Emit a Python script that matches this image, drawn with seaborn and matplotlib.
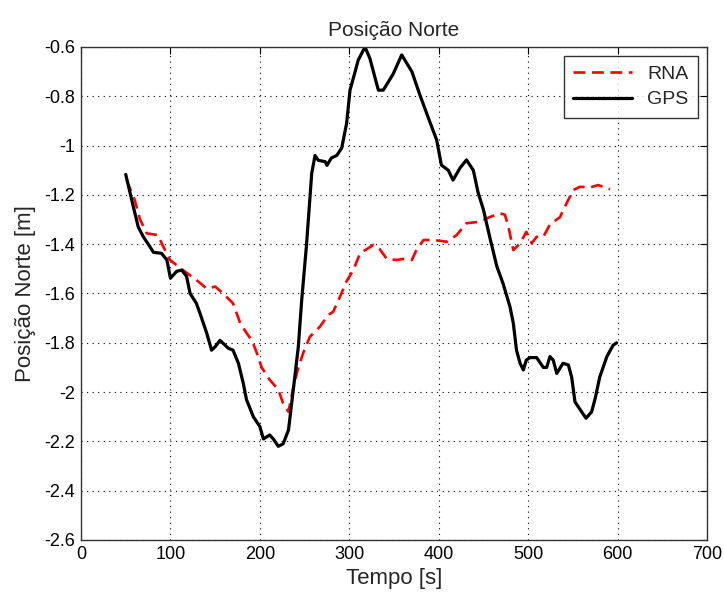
import pandas as pd
import matplotlib
matplotlib.use('Agg')
import matplotlib.pyplot as plt
import seaborn as sns
from matplotlib.ticker import FuncFormatter

# Values
gps_t = [50, 58.5, 64, 69.7, 77, 81, 90, 96, 100, 107, 112.6, 118, 122, 129, 133,
         140.5, 146, 150, 155.4, 164.7, 170, 176, 181.5, 185, 192.7, 200, 204, 211,
         215, 220.6, 226, 232, 237.4, 243, 246.8, 252, 258, 261.7, 265.4, 273, 275,
         280, 286, 291.5, 297, 300.8, 306, 310, 317.6, 323, 332.5, 338, 349, 358.6,
         370, 379, 390, 397.7, 403, 410.7, 416, 424, 431, 438.7, 444, 450, 457, 465,
         472, 479.7, 483.4, 487, 491, 494.6, 498, 502, 509.5, 517, 520.7, 524.4, 528,
         532, 539, 545, 548.7, 552.4, 558, 564.7, 571, 575, 580, 588, 595, 599]
gps_pos = [-1.117, -1.248, -1.33, -1.37, -1.41, -1.433, -1.437, -1.464, -1.538, -1.51,
           -1.505, -1.53, -1.6, -1.64, -1.68, -1.76, -1.83, -1.816, -1.79, -1.822,
           -1.83, -1.883, -1.965, -2.03, -2.1, -2.14, -2.19, -2.174, -2.19, -2.22,
           -2.21, -2.154, -1.99, -1.816, -1.626, -1.41, -1.112, -1.04, -1.06, -1.065,
           -1.08, -1.05, -1.04, -1.01, -0.91, -0.775, -0.707, -0.653, -0.6, -0.646,
           -0.775, -0.775, -0.71, -0.632, -0.7, -0.795, -0.903, -0.977, -1.079, -1.1,
           -1.14, -1.09, -1.058, -1.1, -1.19, -1.26, -1.37, -1.49, -1.56, -1.654,
           -1.72, -1.83, -1.883, -1.91, -1.87, -1.86, -1.86, -1.9, -1.9, -1.856,
           -1.87, -1.924, -1.883, -1.89, -1.94, -2.04, -2.07, -2.106, -2.08, -2.025,
           -1.94, -1.856, -1.81, -1.8]

rna_t = [51, 60, 66, 73.5, 86, 92, 99.5, 114, 129, 140.5, 150, 159, 170, 178, 185,
         191, 196.5, 202, 211, 220.6, 226, 232, 237.4, 243, 248.6, 256, 267, 276.5,
         282, 289.6, 297, 304.5, 312, 327, 334, 342, 353, 360, 370, 375, 383, 394,
         409, 420, 431, 446, 457, 468.5, 474, 478, 483.4, 491, 498, 504, 509.5, 517,
         524.4, 535.6, 543, 550.5, 558, 569, 578.4, 591.5]
rna_pos = [-1.14, -1.22, -1.3, -1.356, -1.363, -1.41, -1.464, -1.505, -1.545, -1.58,
           -1.572, -1.6, -1.64, -1.72, -1.76, -1.79, -1.84, -1.9, -1.95, -1.99,
           -2.046, -2.08, -1.98, -1.9, -1.84, -1.775, -1.735, -1.687, -1.674, -1.613,
           -1.55, -1.505, -1.437, -1.403, -1.42, -1.46, -1.464, -1.46, -1.464, -1.424,
           -1.383, -1.383, -1.39, -1.363, -1.315, -1.309, -1.29, -1.275, -1.28, -1.33,
           -1.424, -1.396, -1.35, -1.396, -1.37, -1.37, -1.32, -1.29, -1.234, -1.18,
           -1.167, -1.17, -1.16, -1.177]

x_ticks = [0, 100, 200, 300, 400, 500, 600, 700]
y_ticks = [-2.6, -2.4, -2.2, -2, -1.8, -1.6, -1.4, -1.2, -1, -0.8, -0.6]

rna = pd.DataFrame({'t': rna_t, 'pos': rna_pos})
gps = pd.DataFrame({'t': gps_t, 'pos': gps_pos})

sns.set_style('white')
plt.rcParams['font.family'] = ['Liberation Sans Narrow', 'Liberation Sans', 'DejaVu Sans']

fig = plt.figure(figsize=(7.24, 6.01), dpi=100)
ax = fig.add_axes([0.1119, 0.1015, 0.8646, 0.8203])

sns.lineplot(data=rna, x='t', y='pos', ax=ax, color='red', linewidth=1.9,
             label='RNA', sort=False)
ax.lines[-1].set_dashes((4.5, 2.5))
sns.lineplot(data=gps, x='t', y='pos', ax=ax, color='black', linewidth=2.3,
             label='GPS', sort=False)

ax.set_xlim(0, 700)
ax.set_ylim(-2.6, -0.6)
ax.set_xticks(x_ticks)
ax.set_yticks(y_ticks)
ax.yaxis.set_major_formatter(FuncFormatter(lambda v, p: f'{v:g}'))
ax.grid(True, color='black', linestyle=(0, (1, 4)), linewidth=0.8)
ax.tick_params(direction='in', top=True, right=True, length=5, width=0.8,
               labelsize=13, colors='black', pad=4)
for s in ax.spines.values():
    s.set_color('#333333')
    s.set_linewidth(1.0)

ax.set_title('Posição Norte', fontsize=15, pad=8)
ax.set_xlabel('Tempo [s]', fontsize=16, labelpad=4)
ax.set_ylabel('Posição Norte [m]', fontsize=16, labelpad=6)

leg = ax.legend(loc='upper right', fontsize=14, frameon=True, fancybox=False,
                edgecolor='black', borderaxespad=0.45, handlelength=3.0,
                borderpad=0.5, labelspacing=0.4)
leg.get_frame().set_linewidth(1.0)

fig.savefig('out.png', dpi=100, facecolor='white')
